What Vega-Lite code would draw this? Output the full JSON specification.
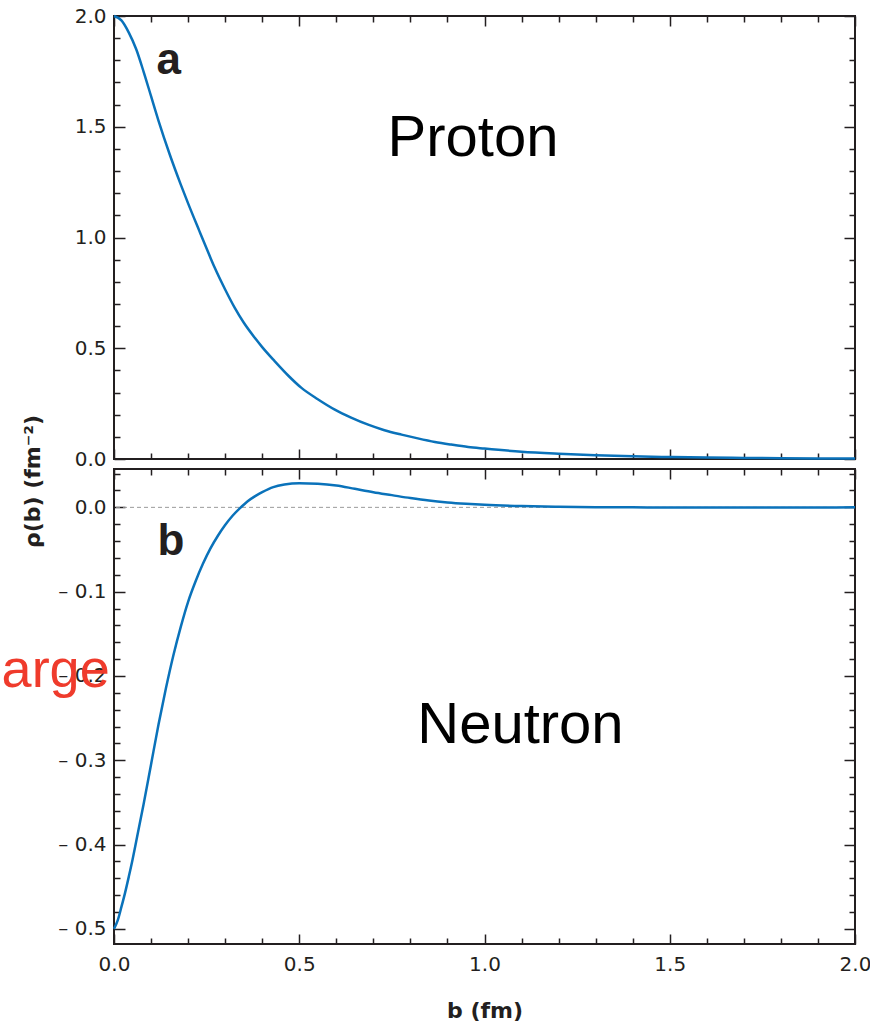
{
  "$schema": "https://vega.github.io/schema/vega-lite/v6.json",
  "padding": {"left": 0, "top": 5, "right": 5, "bottom": 3},
  "background": "white",
  "datasets": {
    "proton": [
      {"b": 0, "rho": 2.0}, {"b": 0.02, "rho": 1.98}, {"b": 0.04, "rho": 1.925}, {"b": 0.06, "rho": 1.85},
      {"b": 0.08, "rho": 1.748}, {"b": 0.10, "rho": 1.638}, {"b": 0.12, "rho": 1.528}, {"b": 0.15, "rho": 1.377},
      {"b": 0.18, "rho": 1.24}, {"b": 0.20, "rho": 1.154}, {"b": 0.23, "rho": 1.031}, {"b": 0.26, "rho": 0.91},
      {"b": 0.272, "rho": 0.863}, {"b": 0.30, "rho": 0.765}, {"b": 0.326, "rho": 0.682}, {"b": 0.35, "rho": 0.616},
      {"b": 0.38, "rho": 0.547}, {"b": 0.40, "rho": 0.505}, {"b": 0.434, "rho": 0.441}, {"b": 0.47, "rho": 0.377},
      {"b": 0.506, "rho": 0.321}, {"b": 0.55, "rho": 0.27}, {"b": 0.596, "rho": 0.223}, {"b": 0.64, "rho": 0.187},
      {"b": 0.686, "rho": 0.155}, {"b": 0.73, "rho": 0.13}, {"b": 0.776, "rho": 0.11}, {"b": 0.82, "rho": 0.093},
      {"b": 0.866, "rho": 0.077}, {"b": 0.91, "rho": 0.065}, {"b": 0.956, "rho": 0.054}, {"b": 1.00, "rho": 0.047},
      {"b": 1.1, "rho": 0.033}, {"b": 1.2, "rho": 0.024},
      {"b": 1.3, "rho": 0.017}, {"b": 1.4, "rho": 0.012}, {"b": 1.5, "rho": 0.009}, {"b": 1.6, "rho": 0.0065},
      {"b": 1.7, "rho": 0.005}, {"b": 1.8, "rho": 0.0035}, {"b": 1.9, "rho": 0.0025}, {"b": 2.0, "rho": 0.002}
    ],
    "neutron": [
      {"b": 0, "rho": -0.5}, {"b": 0.01, "rho": -0.49}, {"b": 0.02, "rho": -0.474}, {"b": 0.03, "rho": -0.457},
      {"b": 0.04, "rho": -0.438}, {"b": 0.05, "rho": -0.418}, {"b": 0.06, "rho": -0.396}, {"b": 0.08, "rho": -0.352},
      {"b": 0.10, "rho": -0.305}, {"b": 0.12, "rho": -0.258}, {"b": 0.14, "rho": -0.215}, {"b": 0.16, "rho": -0.176},
      {"b": 0.18, "rho": -0.142}, {"b": 0.20, "rho": -0.112}, {"b": 0.22, "rho": -0.088}, {"b": 0.24, "rho": -0.067},
      {"b": 0.26, "rho": -0.049}, {"b": 0.28, "rho": -0.034}, {"b": 0.30, "rho": -0.021}, {"b": 0.32, "rho": -0.010},
      {"b": 0.34, "rho": -0.001}, {"b": 0.36, "rho": 0.007}, {"b": 0.38, "rho": 0.013}, {"b": 0.40, "rho": 0.018},
      {"b": 0.43, "rho": 0.024}, {"b": 0.46, "rho": 0.027}, {"b": 0.50, "rho": 0.0285}, {"b": 0.55, "rho": 0.028},
      {"b": 0.60, "rho": 0.026}, {"b": 0.65, "rho": 0.022}, {"b": 0.70, "rho": 0.018}, {"b": 0.75, "rho": 0.0145},
      {"b": 0.80, "rho": 0.011}, {"b": 0.85, "rho": 0.008}, {"b": 0.90, "rho": 0.0058}, {"b": 0.95, "rho": 0.0042},
      {"b": 1.00, "rho": 0.003}, {"b": 1.1, "rho": 0.0015}, {"b": 1.2, "rho": 0.0007}, {"b": 1.3, "rho": 0.0002},
      {"b": 1.4, "rho": 0.0}, {"b": 1.5, "rho": -0.0002}, {"b": 1.6, "rho": -0.0003}, {"b": 1.7, "rho": -0.0003},
      {"b": 1.8, "rho": -0.0002}, {"b": 1.9, "rho": -0.0001}, {"b": 2.0, "rho": 0.0}
    ],
    "panelA": [{"b": 0.148, "rho": 1.738, "label": "a"}],
    "nameA": [{"b": 0.969, "rho": 1.368, "label": "Proton"}],
    "panelB": [{"b": 0.154, "rho": -0.056, "label": "b"}],
    "nameB": [{"b": 1.097, "rho": -0.279, "label": "Neutron"}],
    "side": [{"b": -0.0116, "rho": -0.2127, "label": "arge"}],
    "zero": [{"rho": 0}]
  },
  "config": {
    "view": {"stroke": "#231f20", "strokeWidth": 2},
    "axis": {
      "grid": false, "domain": false, "tickColor": "#231f20", "tickWidth": 1.5,
      "labelColor": "#231f20", "labelFlush": false, "labelOverlap": false, "titleColor": "#231f20"
    }
  },
  "spacing": 10,
  "bounds": "flush",
  "vconcat": [
    {
      "width": 741, "height": 443,
      "layer": [
        {
          "data": {"name": "proton"},
          "mark": {"type": "line", "color": "#0a72ba", "strokeWidth": 2.5, "interpolate": "monotone"},
          "encoding": {
            "x": {"field": "b", "type": "quantitative", "scale": {"domain": [0, 2], "nice": false, "zero": false},
              "axis": {"orient": "bottom", "values": [0,0.1,0.2,0.3,0.4,0.5,0.6,0.7,0.8,0.9,1,1.1,1.2,1.3,1.4,1.5,1.6,1.7,1.8,1.9,2],
                "labels": false, "title": null,
                "tickSize": {"condition": {"test": "abs(datum.value*2-round(datum.value*2))<0.001", "value": -10}, "value": -6}}},
            "y": {"field": "rho", "type": "quantitative", "scale": {"domain": [0, 2], "nice": false, "zero": false},
              "axis": {"orient": "left", "values": [0,0.1,0.2,0.3,0.4,0.5,0.6,0.7,0.8,0.9,1,1.1,1.2,1.3,1.4,1.5,1.6,1.7,1.8,1.9,2],
                "labelExpr": "abs(datum.value*2-round(datum.value*2))<0.001 ? format(datum.value,'.1f') : ''",
                "labelFont": "DejaVu Sans", "labelFontSize": 20, "labelPadding": 19,
                "tickSize": {"condition": {"test": "abs(datum.value*2-round(datum.value*2))<0.001", "value": -11}, "value": -6},
                "title": "ρ(b) (fm⁻²)", "titleFont": "DejaVu Sans", "titleFontWeight": "bold", "titleFontSize": 22,
                "titleAngle": -90, "titleX": -75, "titleY": 465, "titleAlign": "center", "titleBaseline": "alphabetic"}}
          }
        },
        {
          "data": {"name": "panelA"},
          "mark": {"type": "text", "font": "Liberation Sans", "fontWeight": "bold", "fontSize": 44, "color": "#231f20", "align": "center", "baseline": "alphabetic"},
          "encoding": {
            "x": {"field": "b", "type": "quantitative", "scale": {"domain": [0, 2], "nice": false, "zero": false},
              "axis": {"orient": "top", "values": [0,0.1,0.2,0.3,0.4,0.5,0.6,0.7,0.8,0.9,1,1.1,1.2,1.3,1.4,1.5,1.6,1.7,1.8,1.9,2],
                "labels": false, "title": null,
                "tickSize": {"condition": {"test": "abs(datum.value*2-round(datum.value*2))<0.001", "value": -10}, "value": -6}}},
            "y": {"field": "rho", "type": "quantitative", "scale": {"domain": [0, 2], "nice": false, "zero": false},
              "axis": {"orient": "right", "values": [0,0.1,0.2,0.3,0.4,0.5,0.6,0.7,0.8,0.9,1,1.1,1.2,1.3,1.4,1.5,1.6,1.7,1.8,1.9,2],
                "labels": false, "title": null,
                "tickSize": {"condition": {"test": "abs(datum.value*2-round(datum.value*2))<0.001", "value": -11}, "value": -6}}},
            "text": {"field": "label"}
          }
        },
        {
          "data": {"name": "nameA"},
          "mark": {"type": "text", "font": "Liberation Sans", "fontSize": 58, "color": "black", "align": "center", "baseline": "alphabetic"},
          "encoding": {
            "x": {"field": "b", "type": "quantitative", "scale": {"domain": [0, 2], "nice": false, "zero": false}, "axis": null},
            "y": {"field": "rho", "type": "quantitative", "scale": {"domain": [0, 2], "nice": false, "zero": false}, "axis": null},
            "text": {"field": "label"}
          }
        }
      ]
    },
    {
      "width": 741, "height": 475,
      "layer": [
        {
          "data": {"name": "zero"},
          "mark": {"type": "rule", "color": "#9a9a9a", "strokeDash": [4, 3], "strokeWidth": 1},
          "encoding": {
            "y": {"field": "rho", "type": "quantitative", "scale": {"domain": [-0.518, 0.0455], "nice": false, "zero": false}, "axis": null}
          }
        },
        {
          "data": {"name": "neutron"},
          "mark": {"type": "line", "color": "#0a72ba", "strokeWidth": 2.5, "interpolate": "monotone"},
          "encoding": {
            "x": {"field": "b", "type": "quantitative", "scale": {"domain": [0, 2], "nice": false, "zero": false},
              "axis": {"orient": "bottom", "values": [0,0.1,0.2,0.3,0.4,0.5,0.6,0.7,0.8,0.9,1,1.1,1.2,1.3,1.4,1.5,1.6,1.7,1.8,1.9,2],
                "labelExpr": "abs(datum.value*2-round(datum.value*2))<0.001 ? format(datum.value,'.1f') : ''",
                "labelFont": "DejaVu Sans", "labelFontSize": 20, "labelPadding": 20,
                "tickSize": {"condition": {"test": "abs(datum.value*2-round(datum.value*2))<0.001", "value": -10}, "value": -6},
                "title": "b (fm)", "titleFont": "DejaVu Sans", "titleFontWeight": "bold", "titleFontSize": 22,
                "titleY": 73, "titleBaseline": "alphabetic"}},
            "y": {"field": "rho", "type": "quantitative", "scale": {"domain": [-0.518, 0.0455], "nice": false, "zero": false},
              "axis": {"orient": "left", "values": [-0.5,-0.48,-0.46,-0.44,-0.42,-0.4,-0.38,-0.36,-0.34,-0.32,-0.3,-0.28,-0.26,-0.24,-0.22,-0.2,-0.18,-0.16,-0.14,-0.12,-0.1,-0.08,-0.06,-0.04,-0.02,0,0.02,0.04],
                "labelExpr": "abs(datum.value*10-round(datum.value*10))<0.001 ? (datum.value < -0.001 ? '– ' + format(-datum.value,'.1f') : format(abs(datum.value),'.1f')) : ''",
                "labelFont": "DejaVu Sans", "labelFontSize": 20, "labelPadding": 19,
                "tickSize": {"condition": {"test": "abs(datum.value*10-round(datum.value*10))<0.001", "value": -11}, "value": -6},
                "title": null}}
          }
        },
        {
          "data": {"name": "panelB"},
          "mark": {"type": "text", "font": "Liberation Sans", "fontWeight": "bold", "fontSize": 44, "color": "#231f20", "align": "center", "baseline": "alphabetic"},
          "encoding": {
            "x": {"field": "b", "type": "quantitative", "scale": {"domain": [0, 2], "nice": false, "zero": false},
              "axis": {"orient": "top", "values": [0,0.1,0.2,0.3,0.4,0.5,0.6,0.7,0.8,0.9,1,1.1,1.2,1.3,1.4,1.5,1.6,1.7,1.8,1.9,2],
                "labels": false, "title": null,
                "tickSize": {"condition": {"test": "abs(datum.value*2-round(datum.value*2))<0.001", "value": -10}, "value": -6}}},
            "y": {"field": "rho", "type": "quantitative", "scale": {"domain": [-0.518, 0.0455], "nice": false, "zero": false},
              "axis": {"orient": "right", "values": [-0.5,-0.48,-0.46,-0.44,-0.42,-0.4,-0.38,-0.36,-0.34,-0.32,-0.3,-0.28,-0.26,-0.24,-0.22,-0.2,-0.18,-0.16,-0.14,-0.12,-0.1,-0.08,-0.06,-0.04,-0.02,0,0.02,0.04],
                "labels": false, "title": null,
                "tickSize": {"condition": {"test": "abs(datum.value*10-round(datum.value*10))<0.001", "value": -11}, "value": -6}}},
            "text": {"field": "label"}
          }
        },
        {
          "data": {"name": "nameB"},
          "mark": {"type": "text", "font": "Liberation Sans", "fontSize": 58, "color": "black", "align": "center", "baseline": "alphabetic"},
          "encoding": {
            "x": {"field": "b", "type": "quantitative", "scale": {"domain": [0, 2], "nice": false, "zero": false}, "axis": null},
            "y": {"field": "rho", "type": "quantitative", "scale": {"domain": [-0.518, 0.0455], "nice": false, "zero": false}, "axis": null},
            "text": {"field": "label"}
          }
        },
        {
          "data": {"name": "side"},
          "mark": {"type": "text", "font": "Liberation Sans", "fontSize": 54, "color": "#ef3b2c", "align": "right", "baseline": "alphabetic"},
          "encoding": {
            "x": {"field": "b", "type": "quantitative", "scale": {"domain": [0, 2], "nice": false, "zero": false}, "axis": null},
            "y": {"field": "rho", "type": "quantitative", "scale": {"domain": [-0.518, 0.0455], "nice": false, "zero": false}, "axis": null},
            "text": {"field": "label"}
          }
        }
      ]
    }
  ]
}
